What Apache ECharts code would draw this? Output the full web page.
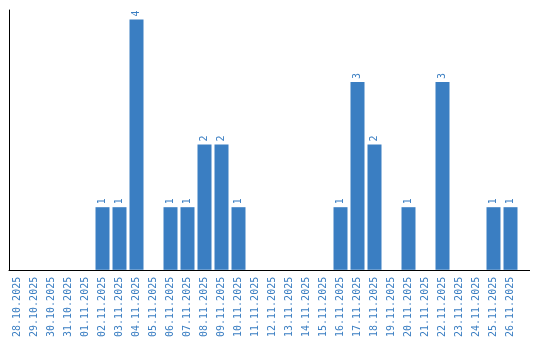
<!DOCTYPE html>
<html><head><meta charset="utf-8">
<script src="https://cdn.jsdelivr.net/npm/echarts@6/dist/echarts.min.js"></script>
<style>html,body{margin:0;padding:0;background:#fff}#c{width:540px;height:340px}</style>
</head><body><div id="c"></div>
<script>
var categories = ['28.10.2025','29.10.2025','30.10.2025','31.10.2025','01.11.2025','02.11.2025','03.11.2025','04.11.2025','05.11.2025','06.11.2025','07.11.2025','08.11.2025','09.11.2025','10.11.2025','11.11.2025','12.11.2025','13.11.2025','14.11.2025','15.11.2025','16.11.2025','17.11.2025','18.11.2025','19.11.2025','20.11.2025','21.11.2025','22.11.2025','23.11.2025','24.11.2025','25.11.2025','26.11.2025'];
var counts = [0,0,0,0,0,1,1,4,0,1,1,2,2,1,0,0,0,0,0,1,3,2,0,1,0,3,0,0,1,1];
var blue = '#3a7ec2';
var chart = echarts.init(document.getElementById('c'));
chart.setOption({
  animation: false,
  grid: {left: 9, top: 10, width: 510, height: 260},
  xAxis: {
    type: 'category', data: categories,
    axisLine: {lineStyle: {color: '#000', width: 1}},
    axisTick: {show: false},
    axisLabel: {rotate: 90, interval: 0, margin: 7, color: blue, fontFamily: 'DejaVu Sans Mono', fontSize: 10}
  },
  yAxis: {
    type: 'value', min: 0, max: 4.15,
    axisLine: {show: true, lineStyle: {color: '#000', width: 1}},
    axisTick: {show: false}, axisLabel: {show: false}, splitLine: {show: false}
  },
  series: [{
    type: 'bar', data: counts.map(function(v){return v === 0 ? null : v;}),
    barWidth: 14, itemStyle: {color: blue},
    label: {show: true, position: 'top', rotate: 90, align: 'left', verticalAlign: 'middle', distance: 3,
      color: blue, fontFamily: 'DejaVu Sans Mono', fontSize: 10}
  }],
  graphic: [{type: 'line', shape: {x1: 519, y1: 270.5, x2: 530, y2: 270.5}, style: {stroke: '#000', lineWidth: 1}}]
});
</script></body></html>
